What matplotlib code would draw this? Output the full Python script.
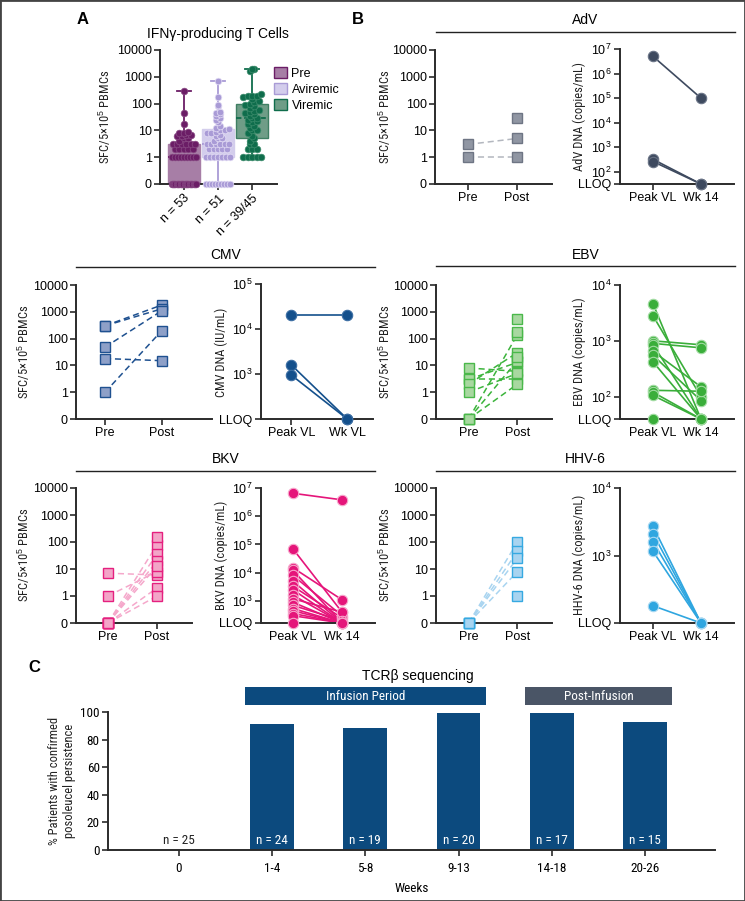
import numpy as np
import matplotlib

matplotlib.use('agg')
import matplotlib.pyplot as plt
from matplotlib import font_manager
from matplotlib.font_manager import FontProperties
from matplotlib.patches import Rectangle
from matplotlib.lines import Line2D

W, H = 745, 901

# ---------------- data ----------------
# panel A: IFNg-producing T cells (SFC/5x10^5 PBMCs), CMV
groups_a = ['Pre', 'Aviremic', 'Viremic']
n_labels_a = ['n = 53', 'n = 51', 'n = 39/45']
sfc_pre = [0] * 20 + [1] * 9 + [2] * 5 + [3] * 6 + [4, 5, 5, 6, 6, 7, 7, 8, 8, 9, 18, 45, 300]
sfc_aviremic = ([0] * 9 + [1] * 7 + [2] * 5 + [3] * 6 + [4, 5, 5, 6, 7, 8, 8, 9, 10, 10, 11, 12]
                + [15, 20, 25, 30, 35, 40, 45, 50, 80, 90, 170, 700])
sfc_viremic = ([1] * 5 + [2] * 3 + [3] * 2 + [4, 5, 6, 8, 10, 10, 12, 15, 18, 20, 22, 25, 28]
               + [30, 35, 40, 45, 50, 55, 60, 70, 80, 90, 100]
               + [110, 120, 150, 180, 200, 200, 200, 220, 1700, 1900, 2000])

# panel B: pre/post SFC (paired + unpaired post) and viral load (0 = below LLOQ)
adv_sfc_pre = [3, 1]
adv_sfc_post = [5, 1]
adv_sfc_post_only = [30]
adv_dna_peak = [5e6, 320, 260]
adv_dna_wk14 = [1e5, 0, 0]

cmv_sfc_pre = [300, 300, 48, 18, 1]
cmv_sfc_post = [1800, 1300, 1100, 15, 200]
cmv_sfc_post_only = []
cmv_dna_peak = [21000, 1600, 950]
cmv_dna_wk = [21000, 0, 0]

ebv_sfc_pre = [8, 3, 3, 2, 1, 0, 0, 0]
ebv_sfc_post = [6, 3, 13, 30, 5, 140, 15, 2]
ebv_sfc_post_only = [550, 180, 20]
ebv_dna_peak = [4600, 2800, 1000, 900, 850, 650, 550, 420, 130, 120, 105, 0]
ebv_dna_wk14 = [0, 100, 850, 750, 0, 150, 85, 0, 125, 0, 0, 0]

bkv_sfc_pre = [7, 1, 0, 0, 0, 0, 0, 0]
bkv_sfc_post = [6, 8, 80, 35, 20, 13, 2, 1]
bkv_sfc_post_only = [150]
bkv_dna_peak = [6.5e6, 7e4, 1.5e4, 1.2e4, 8e3, 5e3, 3.3e3, 2.5e3, 1.6e3, 1.2e3, 900, 700, 540, 450, 360, 300, 0]
bkv_dna_wk14 = [3.8e6, 400, 1.1e3, 0, 300, 0, 250, 0, 0, 400, 0, 200, 0, 0, 0, 0, 0]

hhv6_sfc_pre = [0, 0, 0, 0]
hhv6_sfc_post = [100, 45, 25, 8]
hhv6_sfc_post_only = [1]
hhv6_dna_peak = [2700, 2100, 1600, 1150, 180]
hhv6_dna_wk14 = [0, 0, 0, 0, 0]

# LLOQ position (log10 copies) on each viral load axis, and top decade
lloq = {'AdV': 1.5, 'CMV': 2.0, 'EBV': 1.6, 'BKV': 2.22, 'HHV-6': 2.0}
dna_top = {'AdV': 7, 'CMV': 5, 'EBV': 4, 'BKV': 7, 'HHV-6': 4}

# panel C: TCRb sequencing
weeks = ['0', '1-4', '5-8', '9-13', '14-18', '20-26']
persistence = [0, 91, 88.5, 99, 99, 92.5]
n_patients = [25, 24, 19, 20, 17, 15]

# ---------------- fonts ----------------
fonts = font_manager.fontManager.ttflist
names = {f.name for f in fonts}
BASE = 'Liberation Sans' if 'Liberation Sans' in names else 'DejaVu Sans'
plt.rcParams['font.family'] = [BASE, 'DejaVu Sans']
plt.rcParams['mathtext.fontset'] = 'custom'
plt.rcParams['mathtext.rm'] = BASE
plt.rcParams['mathtext.it'] = BASE + ':italic'
plt.rcParams['mathtext.bf'] = BASE + ':bold'


def find_narrow():
    def ok(f):
        return f.style == 'normal' and f.weight in (400, 'normal', 'regular')
    for want in ['Liberation Sans Narrow', 'Roboto Condensed', 'Open Sans Condensed']:
        for f in fonts:
            if f.name == want and ok(f):
                return f.fname
    for f in fonts:
        if f.name == 'DejaVu Sans' and f.stretch in ('condensed', 'semi-condensed') and ok(f):
            return f.fname
    return None


NARROW_FILE = find_narrow()


def narrow(size):
    if NARROW_FILE:
        return FontProperties(fname=NARROW_FILE, size=size)
    return FontProperties(family=BASE, size=size)


INK = '#2b2b2b'


def px_rect(x0, y0, x1, y1):
    return [x0 / W, 1 - y1 / H, (x1 - x0) / W, (y1 - y0) / H]


def fx(x):
    return x / W


def fy(y):
    return 1 - y / H


def style(ax):
    for s in ['top', 'right']:
        ax.spines[s].set_visible(False)
    for s in ['left', 'bottom']:
        ax.spines[s].set_linewidth(1.4)
        ax.spines[s].set_color(INK)
    ax.tick_params(direction='out', length=4, width=1.2, color=INK, labelsize=9, pad=2)
    ax.patch.set_alpha(0)


def tr_sfc(vals):
    v = np.asarray(vals, dtype=float)
    out = np.full(len(v), -1.0)
    out[v > 0] = np.log10(v[v > 0])
    return out


def tr_dna(vals, floor):
    v = np.asarray(vals, dtype=float)
    out = np.full(len(v), floor)
    out[v > 0] = np.log10(v[v > 0])
    return out


def sfc_axis(ax):
    ax.set_ylim(-1, 4)
    ax.set_yticks(range(-1, 5))
    ax.set_yticklabels(['0', '1', '10', '100', '1000', '10000'])


def swarm(vals, step=0.13, half=0.36, bin_=0.15):
    vals = np.asarray(vals)
    offs = np.zeros(len(vals))
    keys = np.floor(vals / bin_ + 1e-9)
    for k in np.unique(keys):
        idx = np.where(keys == k)[0]
        o = (np.arange(len(idx)) - (len(idx) - 1) / 2) * step
        if len(idx) > 1 and o.max() > half:
            o = o * half / o.max()
        offs[idx] = o
    return offs


def ylabel(text, x, y, size=9):
    fig.text(fx(x), fy(y), text, rotation=90, ha='center', va='center',
             fontproperties=narrow(size), color='#222222')


def header(text, x0, x1, y_text, y_line):
    fig.text(fx((x0 + x1) / 2), fy(y_text), text, ha='center', va='center', fontsize=10)
    fig.add_artist(Line2D([fx(x0), fx(x1)], [fy(y_line)] * 2, color='#222222', lw=1.0))


def sfc_panel(rect, pre, post, post_only, fill, edge, dash, xl):
    ax = fig.add_axes(px_rect(*rect))
    style(ax)
    a, b = tr_sfc(pre), tr_sfc(post)
    for p, q in zip(a, b):
        ax.plot([0, 1], [p, q], ls=(0, (4, 2.5)), color=dash, lw=1.1, zorder=2)
    kw = dict(ls='none', marker='s', ms=7, mfc=fill, mec=edge, mew=1.0, zorder=3, clip_on=False)
    ax.plot(np.zeros(len(a)), a, **kw)
    allpost = np.concatenate([b, tr_sfc(post_only)])
    ax.plot(np.ones(len(allpost)), allpost, **kw)
    sfc_axis(ax)
    ax.set_xlim(*xl)
    ax.set_xticks([0, 1])
    ax.set_xticklabels(['Pre', 'Post'])
    return ax


def dna_panel(rect, virus, peak, wk, color, edge, xl, xlabels):
    ax = fig.add_axes(px_rect(*rect))
    style(ax)
    lo = lloq[virus]
    a, b = tr_dna(peak, lo), tr_dna(wk, lo)
    for p, q in zip(a, b):
        ax.plot([0, 1], [p, q], '-', color=color, lw=1.2, zorder=2)
    kw = dict(ls='none', marker='o', ms=7.5, mfc=color, mec=edge, mew=0.8, zorder=3, clip_on=False)
    ax.plot(np.zeros(len(a)), a, **kw)
    ax.plot(np.ones(len(b)), b, **kw)
    decades = list(range(int(np.floor(lo)) + 1, dna_top[virus] + 1))
    ax.set_ylim(lo, dna_top[virus])
    ax.set_yticks([lo] + decades)
    ax.set_yticklabels(['LLOQ'] + ['$10^{%d}$' % d for d in decades])
    ax.set_xlim(*xl)
    ax.set_xticks([0, 1])
    ax.set_xticklabels(xlabels)
    return ax


fig = plt.figure(figsize=(W / 100, H / 100), dpi=100)

# ---------------- panel A ----------------
fig.text(fx(83), fy(20), 'A', fontsize=12, fontweight='bold', ha='center', va='center')
fig.text(fx(358), fy(20), 'B', fontsize=12, fontweight='bold', ha='center', va='center')
fig.text(fx(218), fy(34), 'IFN\u03b3-producing T Cells', fontsize=10, ha='center', va='center')

axA = fig.add_axes(px_rect(160, 50, 277, 184))
style(axA)
data_a = [tr_sfc(sfc_pre), tr_sfc(sfc_aviremic), tr_sfc(sfc_viremic)]
box_fill = ['#a77ea6', '#d3cdec', '#6f9d87']
box_edge = ['#a77ea6', '#d3cdec', '#3f7f63']
dot_col = ['#6b1d66', '#a99bd6', '#0f6d4c']
dot_edge = ['#8a4c86', '#e6e0f6', '#3d8d6d']
bp = axA.boxplot(data_a, positions=[0, 1, 2], widths=0.92, whis=(0, 100), patch_artist=True,
                 showfliers=False, capwidths=0.42, manage_ticks=False)
for i in range(3):
    bp['boxes'][i].set(facecolor=box_fill[i], edgecolor=box_edge[i], lw=1.0, zorder=1)
    bp['medians'][i].set(color=dot_col[i], lw=1.3, ls=(0, (3, 1.5)), zorder=2)
    for ln in bp['whiskers'][2 * i:2 * i + 2] + bp['caps'][2 * i:2 * i + 2]:
        ln.set(color=dot_col[i], lw=1.3, zorder=2)
    y = data_a[i]
    axA.plot(i + swarm(y), y, ls='none', marker='o', ms=4.8, mfc=dot_col[i], mec=dot_edge[i],
             mew=0.5, zorder=3, clip_on=False)
sfc_axis(axA)
axA.set_xlim(-0.7, 2.73)
axA.set_xticks([0, 1, 2])
axA.set_xticklabels(n_labels_a, rotation=45, ha='right', va='top', rotation_mode='anchor')
ylabel('SFC/5\u00d710$^5$ PBMCs', 105, 117)
handles = [Rectangle((0, 0), 1, 1, facecolor=box_fill[i], edgecolor=dot_col[i], lw=1.0) for i in range(3)]
fig.legend(handles, groups_a, loc='upper left', bbox_to_anchor=(fx(274), fy(67)), frameon=False,
           fontsize=9, handlelength=1.0, handleheight=1.0, handletextpad=0.4, labelspacing=0.25,
           borderpad=0, borderaxespad=0)

# ---------------- panel B ----------------
header('AdV', 436, 735, 20, 32)
sfc_panel((435, 50, 552, 184), adv_sfc_pre, adv_sfc_post, adv_sfc_post_only,
          '#9096a3', '#6e7584', '#b3b7bf', (-0.67, 1.71))
ylabel('SFC/5\u00d710$^5$ PBMCs', 385, 117)
dna_panel((620, 49, 734, 184), 'AdV', adv_dna_peak, adv_dna_wk14, '#3e4a5f', '#6a7486',
          (-0.69, 1.69), ['Peak VL', 'Wk 14'])
ylabel('AdV DNA (copies/mL)', 579, 117)

header('CMV', 76, 375, 255, 267)
sfc_panel((76, 285, 212, 419), cmv_sfc_pre, cmv_sfc_post, cmv_sfc_post_only,
          '#8ea0c8', '#1f5190', '#1f5190', (-0.51, 1.88))
ylabel('SFC/5\u00d710$^5$ PBMCs', 24, 352)
dna_panel((261, 284, 373, 419), 'CMV', cmv_dna_peak, cmv_dna_wk, '#14508c', '#3c6ea3',
          (-0.54, 1.46), ['Peak VL', 'Wk VL'])
ylabel('CMV DNA (IU/mL)', 221, 352)

header('EBV', 436, 735, 255, 266)
sfc_panel((436, 285, 552, 419), ebv_sfc_pre, ebv_sfc_post, ebv_sfc_post_only,
          '#a8d8a0', '#4ab84a', '#3cb43c', (-0.67, 1.71))
ylabel('SFC/5\u00d710$^5$ PBMCs', 385, 352)
dna_panel((620, 285, 734, 419), 'EBV', ebv_dna_peak, ebv_dna_wk14, '#3aae3a', '#a3dca3',
          (-0.69, 1.69), ['Peak VL', 'Wk 14'])
ylabel('EBV DNA (copies/mL)', 579, 352)

header('BKV', 76, 375, 459, 471)
sfc_panel((76, 488, 192, 623), bkv_sfc_pre, bkv_sfc_post, bkv_sfc_post_only,
          '#f3a5c8', '#e5207f', '#f5a8cb', (-0.65, 1.71))
ylabel('SFC/5\u00d710$^5$ PBMCs', 24, 555)
dna_panel((261, 488, 375, 623), 'BKV', bkv_dna_peak, bkv_dna_wk14, '#e5157a', '#f7a8cc',
          (-0.65, 1.67), ['Peak VL', 'Wk 14'])
ylabel('BKV DNA (copies/mL)', 221, 555)

header('HHV-6', 436, 735, 459, 471)
sfc_panel((436, 488, 552, 623), hhv6_sfc_pre, hhv6_sfc_post, hhv6_sfc_post_only,
          '#a8d4f0', '#36a9e1', '#a8d4f0', (-0.67, 1.71))
ylabel('SFC/5\u00d710$^5$ PBMCs', 385, 555)
dna_panel((620, 488, 734, 623), 'HHV-6', hhv6_dna_peak, hhv6_dna_wk14, '#2fa6e0', '#a8d8f2',
          (-0.69, 1.69), ['Peak VL', 'Wk 14'])
ylabel('HHV-6 DNA (copies/mL)', 579, 555)

# ---------------- panel C ----------------
fig.text(fx(34), fy(668), 'C', fontsize=12, fontweight='bold', ha='center', va='center')
axC = fig.add_axes(px_rect(108, 712, 715, 850))
style(axC)
x = np.arange(len(weeks))
axC.bar(x, persistence, width=0.47, color='#0c4a7e', zorder=2)
for i, (p, n) in enumerate(zip(persistence, n_patients)):
    axC.text(i, 2, 'n = %d' % n, ha='center', va='bottom', fontproperties=narrow(9.5),
             color='white' if p > 10 else '#222222', zorder=3)
axC.set_xlim(-0.76, 5.75)
axC.set_ylim(0, 100)
axC.set_yticks(range(0, 101, 20))
axC.set_xticks(x)
axC.set_xticklabels(weeks)
for lab in axC.get_xticklabels() + axC.get_yticklabels():
    lab.set_fontproperties(narrow(9.5))
axC.tick_params(axis='x', pad=5)
axC.set_xlabel('Weeks', fontproperties=narrow(9.5), labelpad=5)
ylabel('% Patients with confirmed\nposoleucel persistence', 62, 781)

trans = axC.get_xaxis_transform()
periods = [('Infusion Period', 1, 3, '#0c4a7e'), ('Post-Infusion', 4, 5, '#4a5566')]
for label, i0, i1, col in periods:
    axC.add_patch(Rectangle((i0 - 0.29, 1.05), i1 - i0 + 0.58, 0.13, transform=trans,
                            facecolor=col, edgecolor='none', clip_on=False))
    axC.text((i0 + i1) / 2, 1.115, label, transform=trans, ha='center', va='center',
             color='white', fontproperties=narrow(9.5))
axC.text(2.56, 1.26, 'TCR\u03b2 sequencing', transform=trans, ha='center', va='center', fontsize=10)

fig.add_artist(Rectangle((0, 0), 1, 1, transform=fig.transFigure, fill=False, lw=2, ec='#444444'))
fig.savefig('out.png', dpi=100)
